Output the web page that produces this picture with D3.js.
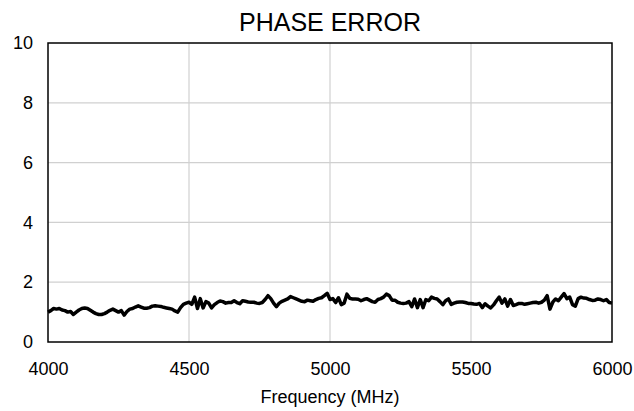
<!DOCTYPE html>
<html><head><meta charset="utf-8">
<script src="https://cdn.jsdelivr.net/npm/d3@7"></script>
<style>body{margin:0;background:#fff;} text{font-family:"Liberation Sans",Arial,sans-serif;fill:#000;}</style>
</head><body>
<svg id="c" width="634" height="411"></svg>
<script>
const title = "PHASE ERROR";
const xLabel = "Frequency (MHz)";
const xTicks = [4000, 4500, 5000, 5500, 6000];
const yTicks = [0, 2, 4, 6, 8, 10];
const freqStart = 4000, freqStep = 10;
const phaseError = [
1.00,1.05,1.12,1.10,1.12,1.07,1.05,1.00,1.02,0.92,
1.00,1.07,1.12,1.14,1.12,1.06,1.00,0.95,0.92,0.92,
0.95,1.00,1.06,1.10,1.05,1.00,1.05,0.90,1.02,1.10,
1.12,1.17,1.21,1.17,1.13,1.13,1.15,1.20,1.21,1.20,
1.19,1.16,1.14,1.12,1.10,1.04,1.00,1.15,1.26,1.30,
1.33,1.26,1.50,1.12,1.45,1.14,1.35,1.30,1.14,1.25,
1.32,1.37,1.35,1.30,1.32,1.32,1.38,1.32,1.28,1.38,
1.36,1.34,1.33,1.33,1.30,1.29,1.32,1.42,1.55,1.45,
1.30,1.18,1.30,1.36,1.40,1.44,1.52,1.48,1.44,1.40,
1.36,1.35,1.40,1.38,1.36,1.42,1.46,1.48,1.55,1.63,
1.42,1.45,1.32,1.48,1.25,1.30,1.60,1.46,1.44,1.44,
1.43,1.38,1.42,1.45,1.40,1.35,1.33,1.42,1.45,1.50,
1.60,1.55,1.40,1.40,1.33,1.30,1.29,1.30,1.35,1.18,
1.44,1.15,1.42,1.15,1.42,1.38,1.50,1.46,1.44,1.35,
1.25,1.38,1.44,1.26,1.30,1.33,1.34,1.34,1.32,1.29,
1.29,1.27,1.26,1.29,1.15,1.28,1.20,1.14,1.24,1.38,
1.50,1.30,1.44,1.20,1.42,1.22,1.25,1.29,1.29,1.26,
1.28,1.30,1.32,1.33,1.30,1.33,1.40,1.55,1.10,1.33,
1.44,1.38,1.50,1.62,1.45,1.50,1.25,1.20,1.45,1.50,
1.47,1.46,1.42,1.39,1.40,1.44,1.42,1.38,1.42,1.32,
1.30
];
const data = phaseError.map((v, i) => ({f: freqStart + i * freqStep, v}));

const svg = d3.select("#c");
const m = {l: 48, r: 22, t: 43, b: 69};
const W = 634, H = 411;
const x = d3.scaleLinear().domain([4000, 6000]).range([m.l, W - m.r]);
const y = d3.scaleLinear().domain([0, 10]).range([H - m.b, m.t]);

// grid
svg.append("g").selectAll("line").data(xTicks.slice(1, -1)).join("line")
  .attr("x1", d => x(d)).attr("x2", d => x(d)).attr("y1", y(0)).attr("y2", y(10))
  .attr("stroke", "#d0d0d0").attr("stroke-width", 1.2);
svg.append("g").selectAll("line").data(yTicks.slice(1, -1)).join("line")
  .attr("x1", x(4000)).attr("x2", x(6000)).attr("y1", d => y(d)).attr("y2", d => y(d))
  .attr("stroke", "#d0d0d0").attr("stroke-width", 1.2);

// line
svg.append("path").datum(data)
  .attr("fill", "none").attr("stroke", "#000").attr("stroke-width", 3.5)
  .attr("stroke-linejoin", "round")
  .attr("d", d3.line().x(d => x(d.f)).y(d => y(d.v)));

// frame
svg.append("rect").attr("x", x(4000)).attr("y", y(10))
  .attr("width", x(6000) - x(4000)).attr("height", y(0) - y(10))
  .attr("fill", "none").attr("stroke", "#000").attr("stroke-width", 1.5);

// axes labels
const xAxis = d3.axisBottom(x).tickValues(xTicks).tickSize(0).tickPadding(20).tickFormat(d3.format("d"));
const gx = svg.append("g").attr("transform", `translate(0,${y(0)})`).call(xAxis);
gx.select(".domain").remove();
gx.selectAll("text").style("font-size", "18px").attr("fill", "#000");

const yAxis = d3.axisLeft(y).tickValues(yTicks).tickSize(0).tickPadding(15).tickFormat(d3.format("d"));
const gy = svg.append("g").attr("transform", `translate(${x(4000)},0)`).call(yAxis);
gy.select(".domain").remove();
gy.selectAll("text").style("font-size", "18px").attr("fill", "#000");

svg.append("text").attr("x", (x(4000) + x(6000)) / 2).attr("y", 31)
  .attr("text-anchor", "middle").style("font-size", "25px").text(title);
svg.append("text").attr("x", (x(4000) + x(6000)) / 2).attr("y", 403)
  .attr("text-anchor", "middle").style("font-size", "18px").text(xLabel);
</script>
</body></html>
